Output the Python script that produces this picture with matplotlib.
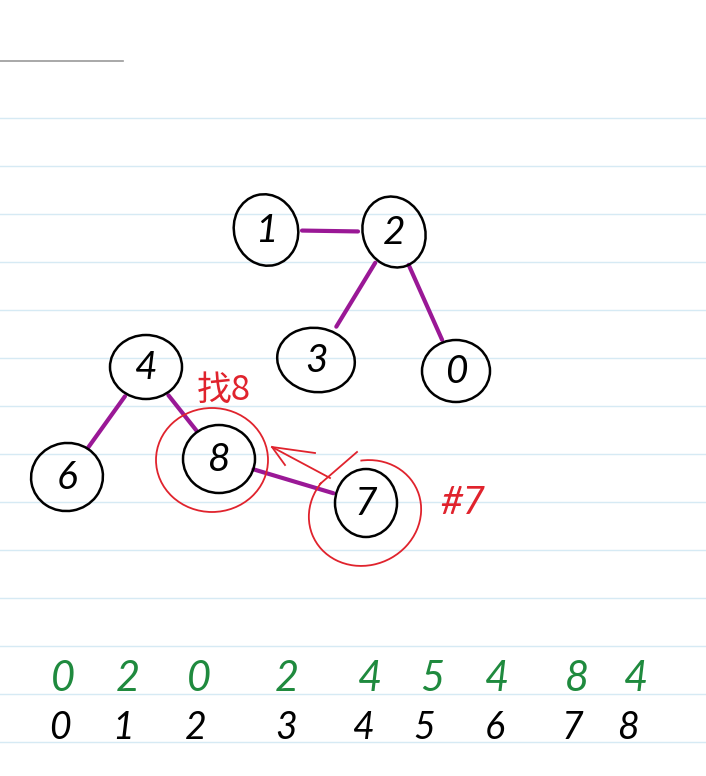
import matplotlib
matplotlib.use("Agg")
import matplotlib.pyplot as plt
from matplotlib.patches import Ellipse, Arc

# ---- data ----
indices = [0, 1, 2, 3, 4, 5, 6, 7, 8]
parents = [0, 2, 0, 2, 4, 5, 4, 8, 4]
drawn_nodes = [1, 2, 3, 0, 4, 6, 8, 7]
find_labels = ["找8", "#7"]

# ---- layout (pixel coordinates) ----
pos = {1: (266, 230), 2: (394, 232), 3: (316, 360), 0: (456, 371),
       4: (146, 367), 6: (67, 477), 8: (219, 459), 7: (366, 503)}
size = {1: (64, 72, -15), 2: (62, 72, -20), 3: (78, 64, 10), 0: (68, 62, 0),
        4: (72, 64, 0), 6: (72, 68, -10), 8: (72, 68, 0), 7: (62, 68, 0)}

W, H = 706, 776
fig = plt.figure(figsize=(W / 100, H / 100), dpi=100)
ax = fig.add_axes([0, 0, 1, 1])
ax.set_xlim(0, W)
ax.set_ylim(H, 0)
ax.axis("off")

# notebook lines
for y in range(118, 760, 48):
    ax.axhline(y, color="#d6eaf4", lw=1.0, zorder=0)
ax.plot([0, 123], [61, 61], color="#999999", lw=1.2)

# edges from parent array
purple = "#9a1896"
for child, par in zip(indices, parents):
    if child == par or child not in pos or par not in pos:
        continue
    (x1, y1), (x2, y2) = pos[child], pos[par]
    dx, dy = x2 - x1, y2 - y1
    d = (dx ** 2 + dy ** 2) ** 0.5
    r1 = max(size[child][0], size[child][1]) / 2
    r2 = max(size[par][0], size[par][1]) / 2
    ax.plot([x1 + dx / d * r1, x2 - dx / d * r2],
            [y1 + dy / d * r1, y2 - dy / d * r2],
            color=purple, lw=3.0, solid_capstyle="round", zorder=2)

hand = dict(family="Lato", fontweight="normal", style="italic")

# nodes
for n in drawn_nodes:
    x, y = pos[n]
    w, h, a = size[n]
    ax.add_patch(Ellipse((x, y), w, h, angle=a, fill=False,
                         ec="black", lw=1.8, zorder=3))
    ax.text(x, y + 1, str(n), ha="center", va="center", fontsize=28,
            color="black", zorder=4, **hand)

# red annotations
red = "#e0232d"
ax.add_patch(Ellipse((212, 460), 112, 104, angle=0, fill=False,
                     ec=red, lw=1.3, zorder=3))
ax.add_patch(Arc((365, 513), 114, 104, angle=-25, theta1=-70, theta2=240,
                 ec=red, lw=1.3, zorder=3))
ax.plot([357, 320], [452, 484], color=red, lw=1.3)
ax.plot([330, 272], [478, 447], color=red, lw=1.3)
ax.plot([315, 272, 285], [453, 447, 465], color=red, lw=1.3)
ax.text(224, 390, find_labels[0], ha="center", va="center", fontsize=25,
        color=red, family=["Noto Sans CJK SC", "DejaVu Sans"],
        style="italic")
ax.text(463, 503, find_labels[1], ha="center", va="center", fontsize=28,
        color=red, **hand)

# parent array (green) and indices (black)
green = "#1f8a3e"
gx = [63, 128, 199, 287, 370, 432, 497, 577, 636]
bx = [60, 123, 196, 286, 364, 424, 495, 572, 628]
for i, p in enumerate(parents):
    ax.text(gx[i], 679, str(p), ha="center", va="center", fontsize=30,
            color=green, **hand)
    ax.text(bx[i], 728, str(indices[i]), ha="center", va="center",
            fontsize=27, color="black", **hand)

fig.savefig("out.png", dpi=100)
